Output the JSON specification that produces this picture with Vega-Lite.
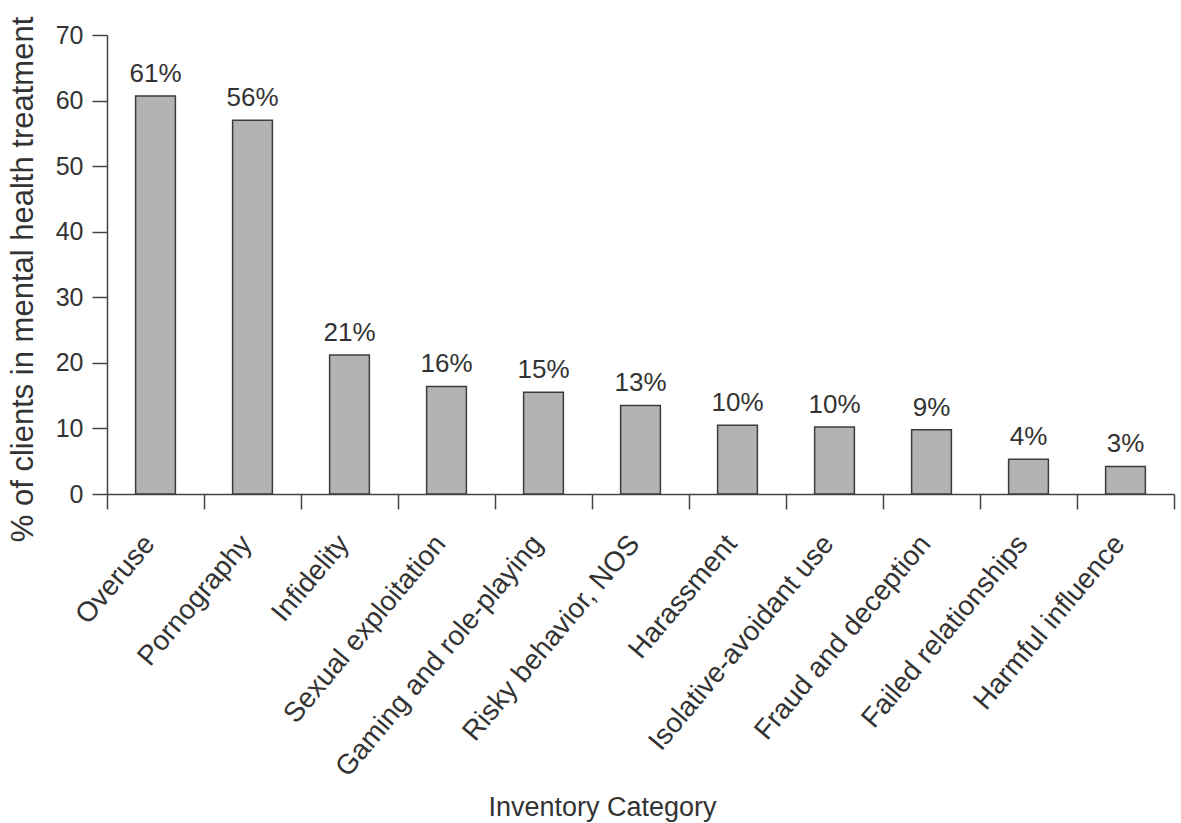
{
  "$schema": "https://vega.github.io/schema/vega-lite/v6.json",
  "autosize": "none",
  "width": 1067,
  "height": 459,
  "padding": {"left": 107, "top": 35, "right": 7, "bottom": 329},
  "background": "white",
  "config": {"view": {"stroke": null}, "font": "Liberation Sans"},
  "data": {
    "values": [
      {"category": "Overuse", "value": 60.7, "label": "61%"},
      {"category": "Pornography", "value": 57.0, "label": "56%"},
      {"category": "Infidelity", "value": 21.2, "label": "21%"},
      {"category": "Sexual exploitation", "value": 16.4, "label": "16%"},
      {"category": "Gaming and role-playing", "value": 15.5, "label": "15%"},
      {"category": "Risky behavior, NOS", "value": 13.5, "label": "13%"},
      {"category": "Harassment", "value": 10.5, "label": "10%"},
      {"category": "Isolative-avoidant use", "value": 10.2, "label": "10%"},
      {"category": "Fraud and deception", "value": 9.8, "label": "9%"},
      {"category": "Failed relationships", "value": 5.3, "label": "4%"},
      {"category": "Harmful influence", "value": 4.2, "label": "3%"}
    ]
  },
  "encoding": {
    "x": {
      "field": "category",
      "type": "nominal",
      "sort": null,
      "scale": {"paddingInner": 0, "paddingOuter": 0},
      "axis": {
        "orient": "bottom",
        "tickBand": "extent",
        "tickSize": 15,
        "tickColor": "#444",
        "tickWidth": 1.5,
        "domainColor": "#444",
        "domainWidth": 1.5,
        "labelAngle": -50,
        "labelAlign": "right",
        "labelBaseline": "middle",
        "labelPadding": 30,
        "labelOffset": -6,
        "labelFontSize": 28,
        "labelColor": "#333",
        "labelLimit": 500,
        "title": "Inventory Category",
        "titleFontSize": 27,
        "titleFontWeight": "normal",
        "titleColor": "#333",
        "titleX": 495,
        "titleY": 321,
        "titleAlign": "center",
        "titleBaseline": "alphabetic"
      }
    },
    "y": {
      "field": "value",
      "type": "quantitative",
      "scale": {"domain": [0, 70], "nice": false},
      "axis": {
        "values": [0, 10, 20, 30, 40, 50, 60, 70],
        "grid": false,
        "tickSize": 15,
        "tickColor": "#444",
        "tickWidth": 1.5,
        "domainColor": "#444",
        "domainWidth": 1.5,
        "labelPadding": 9,
        "labelFontSize": 25,
        "labelColor": "#333",
        "title": "% of clients in mental health treatment",
        "titleFontSize": 31,
        "titleFontWeight": "normal",
        "titleColor": "#333",
        "titleX": -75,
        "titleY": 244,
        "titleAlign": "center",
        "titleBaseline": "alphabetic"
      }
    }
  },
  "layer": [
    {
      "mark": {"type": "bar", "width": {"band": 0.41}, "fill": "#b3b3b3", "stroke": "#3c3c3c", "strokeWidth": 1.5}
    },
    {
      "mark": {"type": "text", "dy": -14, "baseline": "alphabetic", "fontSize": 26, "color": "#333"},
      "encoding": {"text": {"field": "label"}}
    }
  ]
}
